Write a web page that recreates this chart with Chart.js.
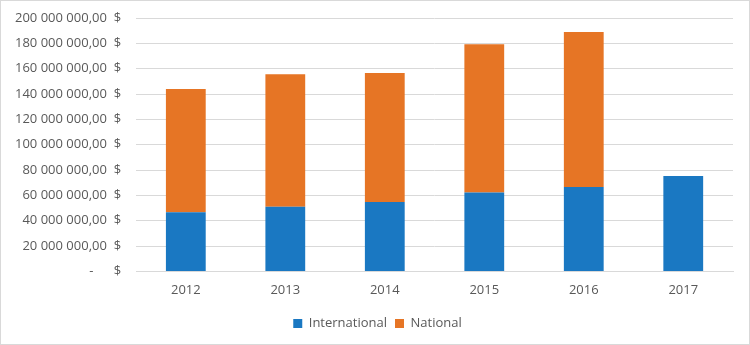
<!DOCTYPE html>
<html>
<head>
<meta charset="utf-8">
<script src="https://cdn.jsdelivr.net/npm/chart.js@4"></script>
<style>
html,body{margin:0;padding:0;background:#fff;}
#wrap{width:750px;height:345px;position:relative;}
</style>
</head>
<body>
<div id="wrap"><canvas id="c" width="750" height="345"></canvas></div>
<script>
const categories = ['2012','2013','2014','2015','2016','2017'];
const international = [46600000, 51100000, 54800000, 62200000, 66700000, 75200000];
const national = [97400000, 104600000, 101700000, 117100000, 122300000, null];
const yTicks = [0, 20000000, 40000000, 60000000, 80000000, 100000000, 120000000, 140000000, 160000000, 180000000, 200000000];

function fmt(v){
  if (v === 0) return '-      $';
  const s = Math.round(v).toString().replace(/\B(?=(\d{3})+(?!\d))/g, ' ');
  return s + ',00  $';
}

const borderPlugin = {
  id: 'outerBorder',
  afterLayout(chart){
    const lg = chart.legend;
    if (lg) { lg.left += 11; lg.right += 11; }
  },
  afterDraw(chart){
    const ctx = chart.ctx;
    ctx.save();
    ctx.strokeStyle = '#d9d9d9';
    ctx.lineWidth = 1;
    ctx.strokeRect(0.5, 0.5, chart.width - 1, chart.height - 1);
    ctx.restore();
  }
};

new Chart(document.getElementById('c'), {
  type: 'bar',
  data: {
    labels: categories,
    datasets: [
      {label: 'International', data: international, backgroundColor: '#1a78c2', borderWidth: 0},
      {label: 'National', data: national, backgroundColor: '#e67525', borderWidth: 0}
    ]
  },
  options: {
    responsive: false,
    animation: false,
    devicePixelRatio: 1,
    layout: {padding: {left: 0, right: 17, top: 18, bottom: 5}},
    datasets: {bar: {categoryPercentage: 0.4, barPercentage: 1}},
    plugins: {
      legend: {
        position: 'bottom',
        labels: {
          font: {family: 'Open Sans', size: 13},
          color: '#595959',
          boxWidth: 9, boxHeight: 9,
          padding: 8,
          useBorderRadius: false
        }
      },
      tooltip: {enabled: false}
    },
    scales: {
      x: {
        stacked: true,
        grid: {display: false, drawTicks: false},
        border: {display: true, color: '#d9d9d9'},
        ticks: {font: {family: 'Open Sans', size: 13}, color: '#595959', padding: 11}
      },
      y: {
        stacked: true,
        min: 0, max: 200000000,
        afterBuildTicks(axis){ axis.ticks = yTicks.map(v => ({value: v})); },
        afterFit(s){ s.paddingTop = 0; s.paddingBottom = 0; },
        grid: {color: '#d9d9d9', drawTicks: false},
        border: {display: false},
        ticks: {font: {family: 'Open Sans', size: 13}, color: '#595959', padding: 15, callback: v => fmt(v)}
      }
    }
  },
  plugins: [borderPlugin]
});
</script>
</body>
</html>
